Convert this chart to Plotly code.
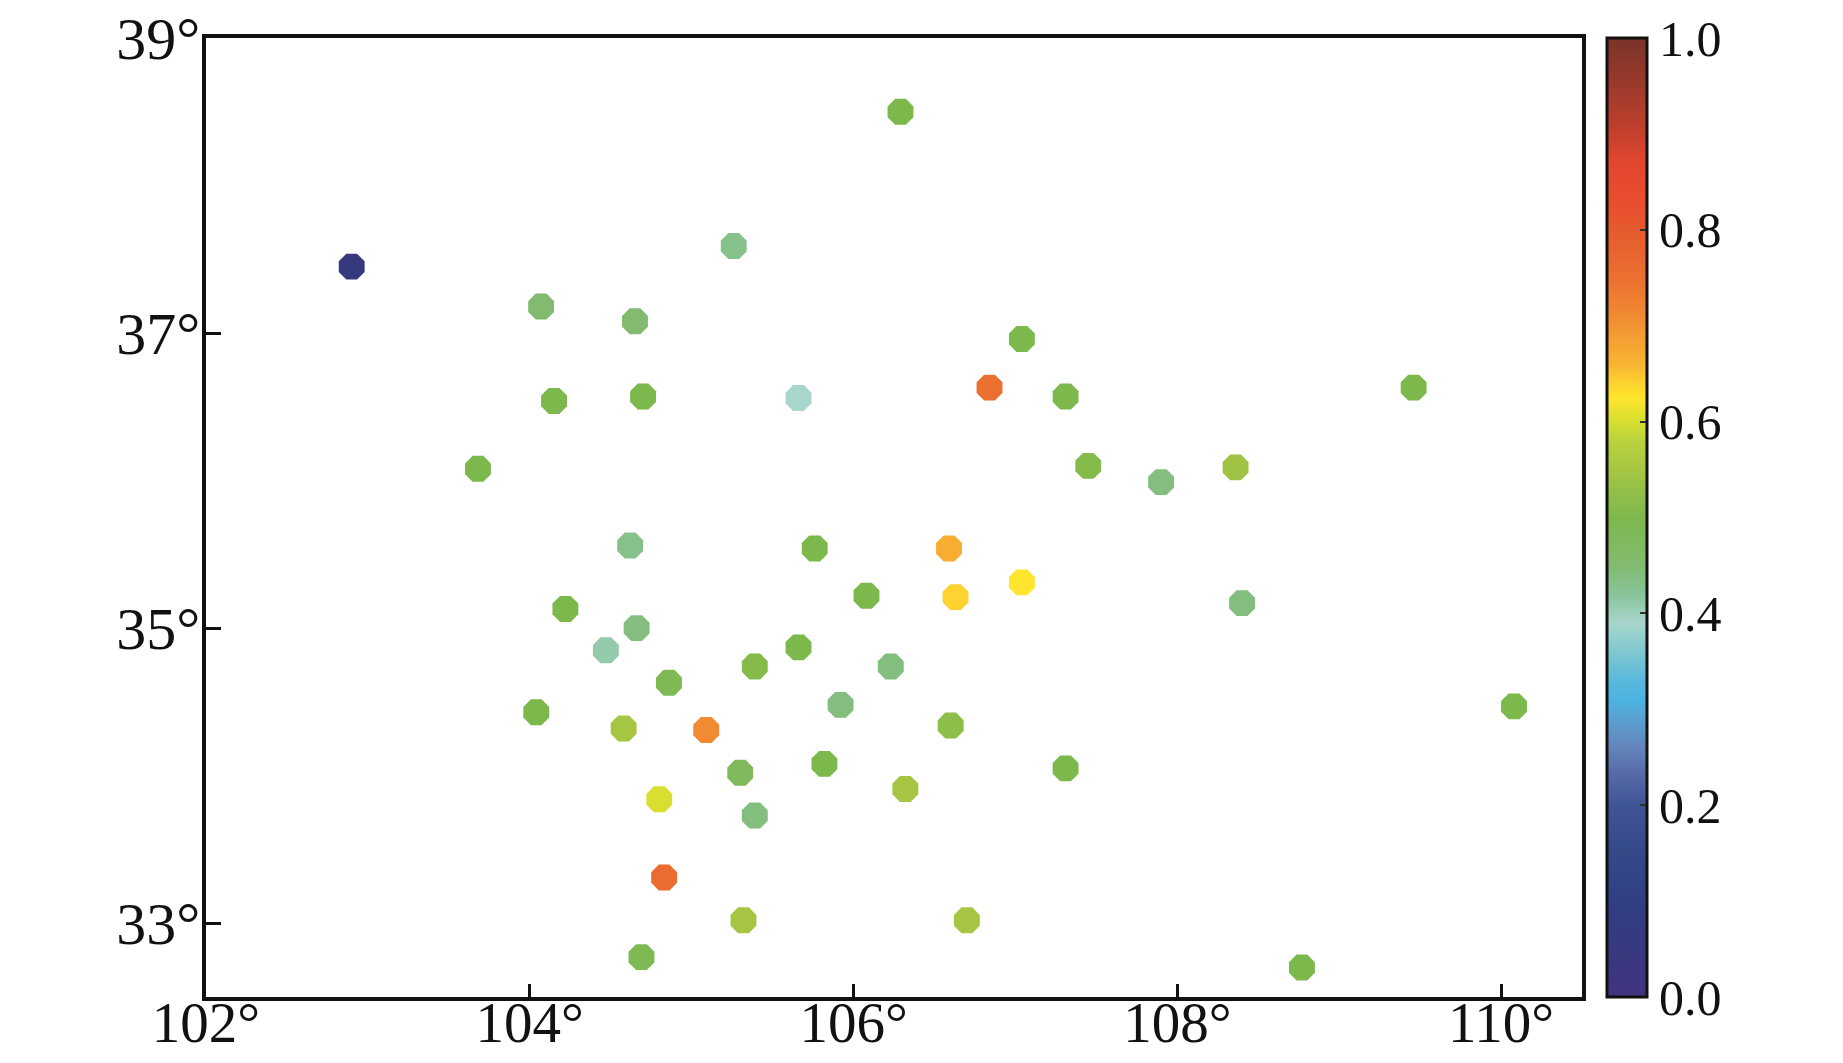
import plotly.graph_objects as go

# Station longitudes (deg E), latitudes (deg N) and index values (0-1)
lon = [106.29, 102.90, 105.26, 104.07, 104.65, 107.04, 106.84, 107.31, 105.66, 104.15,
       104.70, 109.46, 103.68, 107.45, 107.90, 108.36, 104.62, 105.76, 106.59, 107.04,
       106.63, 106.08, 108.40, 104.22, 104.66, 104.47, 105.66, 105.39, 106.23, 104.86,
       104.04, 105.92, 110.08, 104.58, 105.09, 106.60, 105.30, 105.82, 107.31, 106.32,
       104.80, 105.39, 104.83, 105.32, 106.70, 104.69, 108.77]
lat = [38.50, 37.45, 37.59, 37.18, 37.08, 36.96, 36.63, 36.57, 36.56, 36.54,
       36.57, 36.63, 36.08, 36.10, 35.99, 36.09, 35.56, 35.54, 35.54, 35.31,
       35.21, 35.22, 35.17, 35.13, 35.00, 34.85, 34.87, 34.74, 34.74, 34.63,
       34.43, 34.48, 34.47, 34.32, 34.31, 34.34, 34.02, 34.08, 34.05, 33.91,
       33.84, 33.73, 33.31, 33.02, 33.02, 32.77, 32.70]
val = [0.50, 0.05, 0.43, 0.45, 0.45, 0.50, 0.75, 0.50, 0.39, 0.50,
       0.50, 0.50, 0.50, 0.51, 0.44, 0.54, 0.43, 0.50, 0.67, 0.625,
       0.64, 0.50, 0.44, 0.50, 0.44, 0.41, 0.50, 0.51, 0.44, 0.49,
       0.50, 0.44, 0.50, 0.55, 0.71, 0.52, 0.48, 0.50, 0.50, 0.55,
       0.60, 0.44, 0.76, 0.55, 0.55, 0.49, 0.50]

x_ticks = [102, 104, 106, 108, 110]
y_ticks = [33, 35, 37, 39]
cbar_ticks = [0.0, 0.2, 0.4, 0.6, 0.8, 1.0]

colorscale = [
    [0.00, "#433280"], [0.05, "#37397f"], [0.10, "#313f85"], [0.15, "#344888"],
    [0.20, "#3f5596"], [0.23, "#5468a5"], [0.26, "#6484ba"], [0.29, "#5aa1d2"],
    [0.31, "#4bb4e2"], [0.33, "#5ab8dc"], [0.36, "#80c8cf"], [0.39, "#a8d6cc"],
    [0.42, "#88c49a"], [0.45, "#82bb70"], [0.50, "#7db84d"], [0.55, "#a6c643"],
    [0.58, "#b9d23d"], [0.60, "#d8df31"], [0.625, "#ffe52d"], [0.64, "#fdd231"],
    [0.66, "#f8b431"], [0.69, "#f49c33"], [0.72, "#ef8332"], [0.75, "#eb7030"],
    [0.80, "#e55a2e"], [0.83, "#e84d2e"], [0.87, "#e2472f"], [0.90, "#c5402d"],
    [0.95, "#9c3a2c"], [1.00, "#7a3328"],
]

FONT = "Liberation Serif, Times New Roman, serif"

fig = go.Figure()
fig.add_trace(go.Scatter(
    x=lon, y=lat, mode="markers",
    marker=dict(
        symbol="octagon", size=28, color=val, cmin=0, cmax=1,
        colorscale=colorscale, line=dict(width=0),
        colorbar=dict(
            x=1.018, xanchor="left", y=0.5, yanchor="middle",
            len=1.0, lenmode="fraction", thickness=40, thicknessmode="pixels",
            xpad=0, ypad=0, outlinewidth=3, outlinecolor="#111111",
            tickvals=cbar_ticks, ticktext=[f"{t:.1f}" for t in cbar_ticks],
            ticks="inside", ticklen=8, tickwidth=2, tickcolor="#333333",
            tickfont=dict(family=FONT, size=50, color="#111111"),
        ),
    ),
    showlegend=False,
))

fig.update_xaxes(
    range=[102, 110.5], tickvals=x_ticks, ticktext=[f"{t}°" for t in x_ticks],
    showgrid=False, zeroline=False, showline=True, linecolor="#111111", linewidth=3.5,
    mirror=True, ticks="inside", ticklen=13, tickwidth=3, tickcolor="#111111",
    tickfont=dict(family=FONT, size=57, color="#111111"), automargin=False,
    ticklabelstandoff=-27,
)
fig.update_yaxes(
    range=[32.5, 39], tickvals=y_ticks, ticktext=[f"{t}°" for t in y_ticks],
    showgrid=False, zeroline=False, showline=True, linecolor="#111111", linewidth=3.5,
    mirror=True, ticks="inside", ticklen=15, tickwidth=3, tickcolor="#111111",
    tickfont=dict(family=FONT, size=60, color="#111111"), automargin=False,
    ticklabelstandoff=-10,
)

fig.update_layout(
    width=1843, height=1063,
    margin=dict(l=206, r=261, t=38, b=66, autoexpand=False),
    paper_bgcolor="white", plot_bgcolor="white",
)

fig.write_html(
    "out.html",
    config={"displayModeBar": False},
    post_script="document.body.style.margin='0';document.body.style.overflow='hidden';",
)
